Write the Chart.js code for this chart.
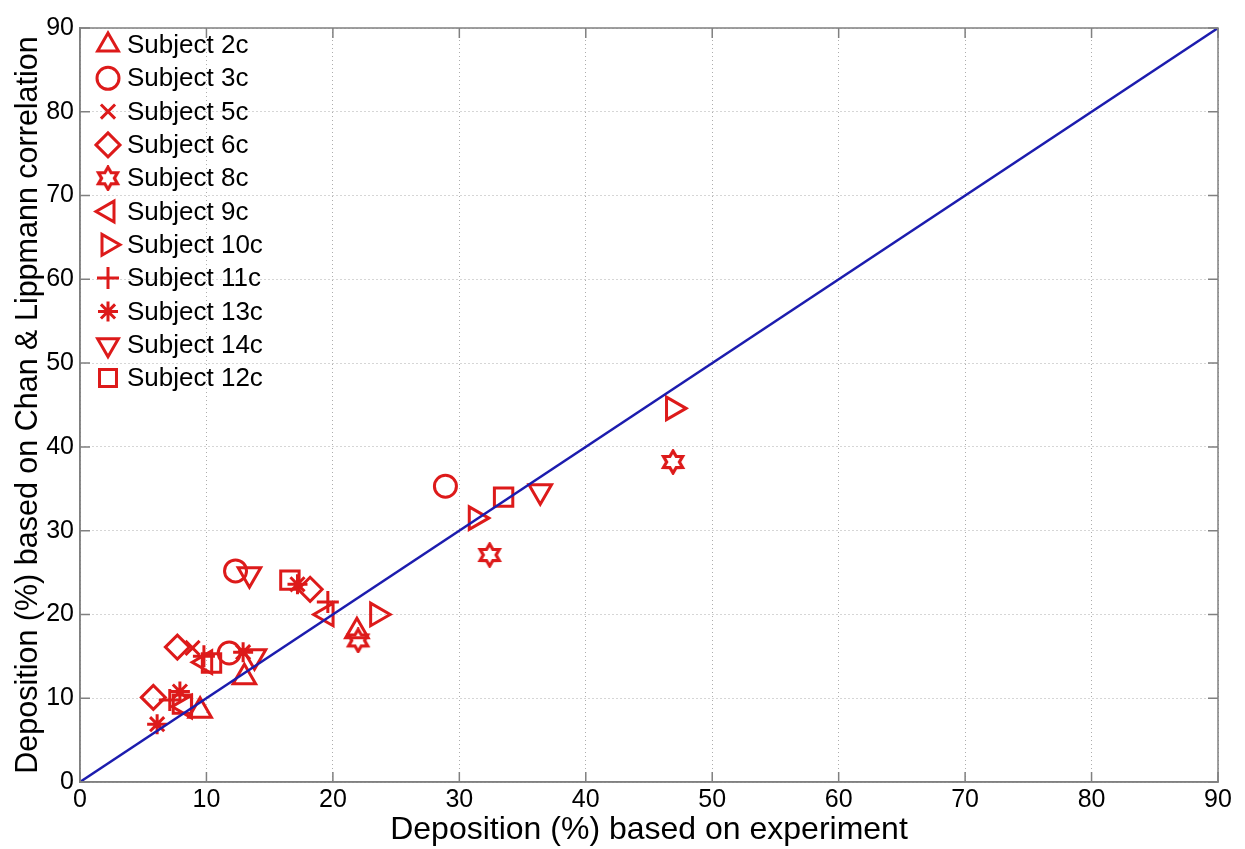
<!DOCTYPE html>
<html>
<head>
<meta charset="utf-8">
<script src="https://cdn.jsdelivr.net/npm/chart.js@4.4.1/dist/chart.umd.min.js"></script>
<style>
  html, body { margin: 0; padding: 0; background: #fff; }
  #wrap { width: 1245px; height: 849px; }
</style>
</head>
<body>
<div id="wrap"><canvas id="dep-chart" width="1245" height="849"></canvas></div>
<script>
// Dữ liệu
const subjectNames = ["Subject 2c", "Subject 3c", "Subject 5c", "Subject 6c", "Subject 8c", "Subject 9c",
    "Subject 10c", "Subject 11c", "Subject 13c", "Subject 14c", "Subject 12c"];

const s2cX = [13.0, 9.5, 21.9];
const s2cY = [12.5, 8.5, 18.0];
const s3cX = [12.3, 28.9, 11.8];
const s3cY = [25.2, 35.3, 15.4];
const s5cX = [8.9];
const s5cY = [16.0];
const s6cX = [7.7, 5.8, 18.2];
const s6cY = [16.1, 10.1, 23.0];
const s8cX = [46.9, 32.4, 22.0];
const s8cY = [38.2, 27.1, 16.9];
const s9cX = [19.5, 9.9, 8.3];
const s9cY = [20.0, 14.3, 9.0];
const s10cX = [46.9, 31.3, 23.5];
const s10cY = [44.6, 31.5, 20.0];
const s11cX = [19.6, 7.1, 9.8];
const s11cY = [21.5, 9.8, 15.0];
const s13cX = [6.1, 7.9, 12.9, 17.2];
const s13cY = [6.9, 10.8, 15.5, 23.6];
const s14cX = [13.4, 13.8, 36.4];
const s14cY = [24.8, 15.0, 34.7];
const s12cX = [16.6, 33.5, 10.4, 8.1];
const s12cY = [24.1, 34.0, 14.2, 9.3];

const xTicks = [0, 10, 20, 30, 40, 50, 60, 70, 80, 90];
const yTicks = [0, 10, 20, 30, 40, 50, 60, 70, 80, 90];
const diagX = [0, 90];
const diagY = [0, 90];

const RED = "#dd1a1a";
const BLUE = "#1c1cae";
const AXIS = "#808080";
const FONT = "'Liberation Sans', Arial, sans-serif";

// Ngôi sao 6 cánh (hexagram) vẽ bằng canvas
function makeHexagram(size) {
    const c = document.createElement("canvas");
    c.width = size;
    c.height = size;
    const g = c.getContext("2d");
    const cx = size / 2, cy = size / 2;
    const ro = size / 2 - 2, ri = ro * 0.58;
    g.beginPath();
    for (let i = 0; i < 12; i++) {
        const a = -Math.PI / 2 + i * Math.PI / 6;
        const r = i % 2 === 0 ? ro : ri;
        const px = cx + r * Math.cos(a), py = cy + r * Math.sin(a);
        if (i === 0) g.moveTo(px, py); else g.lineTo(px, py);
    }
    g.closePath();
    g.strokeStyle = RED;
    g.lineWidth = 3.2;
    g.lineJoin = "miter";
    g.stroke();
    return c;
}
const hexagram = makeHexagram(26);

function toPoints(xs, ys) {
    return xs.map((x, i) => ({ x: x, y: ys[i] }));
}

const markers = [
    { style: "triangle", rot: 0, r: 13 },
    { style: "circle", rot: 0, r: 11 },
    { style: "crossRot", rot: 0, r: 10 },
    { style: "rectRot", rot: 0, r: 12 },
    { style: hexagram, rot: 0, r: 11 },
    { style: "triangle", rot: -90, r: 13 },
    { style: "triangle", rot: 90, r: 13 },
    { style: "cross", rot: 0, r: 11 },
    { style: "star", rot: 0, r: 10 },
    { style: "triangle", rot: 180, r: 13 },
    { style: "rect", rot: 0, r: 13 }
];

const seriesX = [s2cX, s3cX, s5cX, s6cX, s8cX, s9cX, s10cX, s11cX, s13cX, s14cX, s12cX];
const seriesY = [s2cY, s3cY, s5cY, s6cY, s8cY, s9cY, s10cY, s11cY, s13cY, s14cY, s12cY];

const datasets = [{
    type: "line",
    label: "y = x",
    data: toPoints(diagX, diagY),
    borderColor: BLUE,
    borderWidth: 2.4,
    pointRadius: 0,
    fill: false,
    order: 0
}];
subjectNames.forEach((name, i) => {
    datasets.push({
        type: "scatter",
        label: name,
        data: toPoints(seriesX[i], seriesY[i]),
        pointStyle: markers[i].style,
        rotation: markers[i].rot,
        pointRadius: markers[i].r,
        pointHoverRadius: markers[i].r,
        borderColor: RED,
        backgroundColor: "rgba(0,0,0,0)",
        borderWidth: 3,
        order: 1
    });
});

// Khung hộp, vạch chia hướng vào trong và chú giải bên trong
const boxAndLegend = {
    id: "boxAndLegend",
    afterDraw(chart) {
        const { ctx, chartArea: a } = chart;
        const sx = chart.scales.x, sy = chart.scales.y;
        ctx.save();
        ctx.strokeStyle = AXIS;
        ctx.lineWidth = 1.5;
        ctx.strokeRect(a.left, a.top, a.right - a.left, a.bottom - a.top);
        const t = 10;
        ctx.beginPath();
        xTicks.forEach(v => {
            const px = sx.getPixelForValue(v);
            ctx.moveTo(px, a.bottom); ctx.lineTo(px, a.bottom - t);
            ctx.moveTo(px, a.top); ctx.lineTo(px, a.top + t);
        });
        yTicks.forEach(v => {
            const py = sy.getPixelForValue(v);
            ctx.moveTo(a.left, py); ctx.lineTo(a.left + t, py);
            ctx.moveTo(a.right, py); ctx.lineTo(a.right - t, py);
        });
        ctx.stroke();

        // chú giải
        const x0 = a.left + 28, y0 = a.top + 17, step = 33.3;
        ctx.font = "26px " + FONT;
        ctx.textBaseline = "middle";
        subjectNames.forEach((name, i) => {
            const y = y0 + i * step;
            ctx.strokeStyle = RED;
            ctx.fillStyle = "rgba(0,0,0,0)";
            ctx.lineWidth = 3;
            Chart.helpers.drawPoint(ctx, {
                pointStyle: markers[i].style,
                rotation: markers[i].rot,
                radius: Math.min(markers[i].r, 12),
                borderWidth: 3
            }, x0, y);
            ctx.fillStyle = "#000";
            ctx.fillText(name, x0 + 19, y + 1);
        });
        ctx.restore();
    }
};

const ctx = document.getElementById("dep-chart").getContext("2d");
new Chart(ctx, {
    data: { datasets: datasets },
    plugins: [boxAndLegend],
    options: {
        responsive: false,
        animation: false,
        layout: { padding: { top: 28, right: 27, left: 0, bottom: 0 } },
        plugins: { legend: { display: false }, tooltip: { enabled: false } },
        scales: {
            x: {
                type: "linear",
                min: 0, max: 90,
                afterBuildTicks: (s) => { s.ticks = xTicks.map(v => ({ value: v })); },
                afterFit: (s) => { s.height = 67; },
                grid: { color: "#adadad", lineWidth: 1, drawTicks: false },
                border: { color: AXIS, width: 1.5, dash: [1, 3] },
                ticks: { color: "#000", font: { family: FONT, size: 25 }, padding: 3 },
                title: {
                    display: true, text: "Deposition (%) based on experiment",
                    color: "#000", font: { family: FONT, size: 32 }, padding: { top: -4, bottom: 0 }
                }
            },
            y: {
                type: "linear",
                min: 0, max: 90,
                afterBuildTicks: (s) => { s.ticks = yTicks.map(v => ({ value: v })); },
                afterFit: (s) => { s.width = 80; },
                grid: { color: "#adadad", lineWidth: 1, drawTicks: false },
                border: { color: AXIS, width: 1.5, dash: [1, 3] },
                ticks: { color: "#000", font: { family: FONT, size: 25 }, padding: 6 },
                title: {
                    display: true, text: "Deposition (%) based on Chan & Lippmann correlation",
                    color: "#000", font: { family: FONT, size: 30.5 }, padding: { top: 10, bottom: 0 }
                }
            }
        }
    }
});
</script>
</body>
</html>
